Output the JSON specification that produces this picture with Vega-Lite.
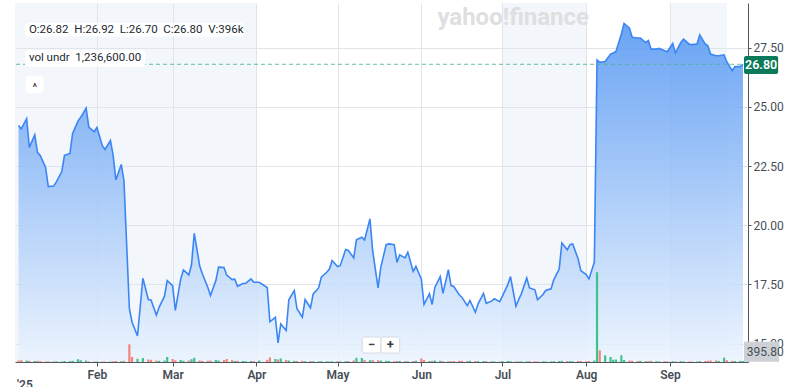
{
  "$schema": "https://vega.github.io/schema/vega-lite/v6.json",
  "width": 733,
  "height": 359,
  "autosize": {"type": "none"},
  "padding": {"left": 15, "top": 3, "right": 52, "bottom": 25},
  "background": "white",
  "config": {
    "view": {"stroke": null},
    "font": "Roboto",
    "axis": {"labelFont": "Roboto", "titleFont": "Roboto"}
  },
  "datasets": {
    "bands": [
      {"start": "2024-12-30", "end": "2025-04-01"},
      {"start": "2025-07-01", "end": "2025-08-01"},
      {"start": "2025-09-01", "end": "2025-09-22"}
    ],
    "price": [
      {"date": "2025-01-03", "close": 24.21, "volume": 0.15, "dir": "down"},
      {"date": "2025-01-04", "close": 24.07, "volume": 0.18, "dir": "down"},
      {"date": "2025-01-06", "close": 24.50, "volume": 0.15, "dir": "up"},
      {"date": "2025-01-07", "close": 23.29, "volume": 0.12, "dir": "down"},
      {"date": "2025-01-09", "close": 23.82, "volume": 0.10, "dir": "up"},
      {"date": "2025-01-10", "close": 23.08, "volume": 0.12, "dir": "down"},
      {"date": "2025-01-11", "close": 22.95, "volume": 0.08, "dir": "down"},
      {"date": "2025-01-13", "close": 22.45, "volume": 0.05, "dir": "down"},
      {"date": "2025-01-14", "close": 21.63, "volume": 0.06, "dir": "down"},
      {"date": "2025-01-16", "close": 21.66, "volume": 0.05, "dir": "up"},
      {"date": "2025-01-17", "close": 21.83, "volume": 0.06, "dir": "up"},
      {"date": "2025-01-19", "close": 22.27, "volume": 0.05, "dir": "up"},
      {"date": "2025-01-20", "close": 22.95, "volume": 0.10, "dir": "up"},
      {"date": "2025-01-22", "close": 23.03, "volume": 0.08, "dir": "up"},
      {"date": "2025-01-23", "close": 23.88, "volume": 0.12, "dir": "up"},
      {"date": "2025-01-25", "close": 24.40, "volume": 0.27, "dir": "up"},
      {"date": "2025-01-26", "close": 24.56, "volume": 0.18, "dir": "up"},
      {"date": "2025-01-28", "close": 24.95, "volume": 0.14, "dir": "up"},
      {"date": "2025-01-29", "close": 24.15, "volume": 0.06, "dir": "down"},
      {"date": "2025-01-31", "close": 23.95, "volume": 0.05, "dir": "down"},
      {"date": "2025-02-01", "close": 24.13, "volume": 0.04, "dir": "up"},
      {"date": "2025-02-03", "close": 23.36, "volume": 0.05, "dir": "down"},
      {"date": "2025-02-04", "close": 23.20, "volume": 0.04, "dir": "down"},
      {"date": "2025-02-06", "close": 23.58, "volume": 0.05, "dir": "up"},
      {"date": "2025-02-07", "close": 22.95, "volume": 0.08, "dir": "down"},
      {"date": "2025-02-08", "close": 21.91, "volume": 0.10, "dir": "down"},
      {"date": "2025-02-10", "close": 22.57, "volume": 0.08, "dir": "up"},
      {"date": "2025-02-11", "close": 21.88, "volume": 0.12, "dir": "down"},
      {"date": "2025-02-13", "close": 16.47, "volume": 1.77, "dir": "down"},
      {"date": "2025-02-14", "close": 15.90, "volume": 0.50, "dir": "down"},
      {"date": "2025-02-16", "close": 15.32, "volume": 0.33, "dir": "up"},
      {"date": "2025-02-18", "close": 17.76, "volume": 0.40, "dir": "up"},
      {"date": "2025-02-20", "close": 16.86, "volume": 0.25, "dir": "down"},
      {"date": "2025-02-21", "close": 16.84, "volume": 0.22, "dir": "down"},
      {"date": "2025-02-23", "close": 16.20, "volume": 0.15, "dir": "down"},
      {"date": "2025-02-24", "close": 16.53, "volume": 0.12, "dir": "up"},
      {"date": "2025-02-26", "close": 17.00, "volume": 0.15, "dir": "up"},
      {"date": "2025-02-27", "close": 17.66, "volume": 0.50, "dir": "up"},
      {"date": "2025-03-01", "close": 17.45, "volume": 0.30, "dir": "down"},
      {"date": "2025-03-02", "close": 16.40, "volume": 0.18, "dir": "down"},
      {"date": "2025-03-04", "close": 17.73, "volume": 0.20, "dir": "up"},
      {"date": "2025-03-05", "close": 18.11, "volume": 0.12, "dir": "up"},
      {"date": "2025-03-07", "close": 17.90, "volume": 0.15, "dir": "down"},
      {"date": "2025-03-08", "close": 18.34, "volume": 0.28, "dir": "up"},
      {"date": "2025-03-09", "close": 19.66, "volume": 0.42, "dir": "up"},
      {"date": "2025-03-11", "close": 18.29, "volume": 0.15, "dir": "down"},
      {"date": "2025-03-12", "close": 17.95, "volume": 0.10, "dir": "down"},
      {"date": "2025-03-14", "close": 17.38, "volume": 0.12, "dir": "down"},
      {"date": "2025-03-15", "close": 17.03, "volume": 0.15, "dir": "down"},
      {"date": "2025-03-17", "close": 17.66, "volume": 0.20, "dir": "up"},
      {"date": "2025-03-18", "close": 18.23, "volume": 0.15, "dir": "up"},
      {"date": "2025-03-20", "close": 18.21, "volume": 0.20, "dir": "down"},
      {"date": "2025-03-21", "close": 17.89, "volume": 0.30, "dir": "down"},
      {"date": "2025-03-23", "close": 17.70, "volume": 0.18, "dir": "down"},
      {"date": "2025-03-24", "close": 17.72, "volume": 0.10, "dir": "up"},
      {"date": "2025-03-25", "close": 17.42, "volume": 0.12, "dir": "down"},
      {"date": "2025-03-27", "close": 17.54, "volume": 0.10, "dir": "up"},
      {"date": "2025-03-28", "close": 17.54, "volume": 0.08, "dir": "up"},
      {"date": "2025-03-30", "close": 17.73, "volume": 0.10, "dir": "up"},
      {"date": "2025-03-31", "close": 17.59, "volume": 0.10, "dir": "down"},
      {"date": "2025-04-02", "close": 17.59, "volume": 0.15, "dir": "up"},
      {"date": "2025-04-05", "close": 17.37, "volume": 0.22, "dir": "down"},
      {"date": "2025-04-06", "close": 15.92, "volume": 0.45, "dir": "down"},
      {"date": "2025-04-08", "close": 16.11, "volume": 0.30, "dir": "up"},
      {"date": "2025-04-09", "close": 15.03, "volume": 0.25, "dir": "down"},
      {"date": "2025-04-10", "close": 15.83, "volume": 0.35, "dir": "up"},
      {"date": "2025-04-12", "close": 15.55, "volume": 0.20, "dir": "down"},
      {"date": "2025-04-13", "close": 16.85, "volume": 0.15, "dir": "up"},
      {"date": "2025-04-15", "close": 17.24, "volume": 0.12, "dir": "up"},
      {"date": "2025-04-16", "close": 16.47, "volume": 0.10, "dir": "down"},
      {"date": "2025-04-18", "close": 16.11, "volume": 0.12, "dir": "down"},
      {"date": "2025-04-19", "close": 16.86, "volume": 0.08, "dir": "up"},
      {"date": "2025-04-21", "close": 16.51, "volume": 0.10, "dir": "down"},
      {"date": "2025-04-22", "close": 17.10, "volume": 0.08, "dir": "up"},
      {"date": "2025-04-24", "close": 17.35, "volume": 0.06, "dir": "up"},
      {"date": "2025-04-25", "close": 17.80, "volume": 0.08, "dir": "up"},
      {"date": "2025-04-27", "close": 18.01, "volume": 0.06, "dir": "up"},
      {"date": "2025-04-28", "close": 18.15, "volume": 0.05, "dir": "up"},
      {"date": "2025-04-29", "close": 18.51, "volume": 0.06, "dir": "up"},
      {"date": "2025-05-01", "close": 18.25, "volume": 0.08, "dir": "down"},
      {"date": "2025-05-02", "close": 18.29, "volume": 0.06, "dir": "up"},
      {"date": "2025-05-04", "close": 18.97, "volume": 0.08, "dir": "up"},
      {"date": "2025-05-05", "close": 18.93, "volume": 0.10, "dir": "down"},
      {"date": "2025-05-07", "close": 18.62, "volume": 0.15, "dir": "down"},
      {"date": "2025-05-08", "close": 19.38, "volume": 0.42, "dir": "up"},
      {"date": "2025-05-10", "close": 19.49, "volume": 0.40, "dir": "up"},
      {"date": "2025-05-11", "close": 19.38, "volume": 0.20, "dir": "down"},
      {"date": "2025-05-13", "close": 20.27, "volume": 0.18, "dir": "up"},
      {"date": "2025-05-14", "close": 18.93, "volume": 0.20, "dir": "down"},
      {"date": "2025-05-16", "close": 17.35, "volume": 0.18, "dir": "down"},
      {"date": "2025-05-17", "close": 18.22, "volume": 0.15, "dir": "up"},
      {"date": "2025-05-19", "close": 19.18, "volume": 0.12, "dir": "up"},
      {"date": "2025-05-20", "close": 19.21, "volume": 0.10, "dir": "up"},
      {"date": "2025-05-22", "close": 19.18, "volume": 0.08, "dir": "down"},
      {"date": "2025-05-23", "close": 18.43, "volume": 0.10, "dir": "down"},
      {"date": "2025-05-24", "close": 18.75, "volume": 0.10, "dir": "up"},
      {"date": "2025-05-26", "close": 18.62, "volume": 0.08, "dir": "down"},
      {"date": "2025-05-27", "close": 18.86, "volume": 0.08, "dir": "up"},
      {"date": "2025-05-29", "close": 18.05, "volume": 0.10, "dir": "down"},
      {"date": "2025-05-30", "close": 18.26, "volume": 0.12, "dir": "up"},
      {"date": "2025-06-01", "close": 17.73, "volume": 0.35, "dir": "down"},
      {"date": "2025-06-02", "close": 16.65, "volume": 0.20, "dir": "down"},
      {"date": "2025-06-04", "close": 17.10, "volume": 0.10, "dir": "up"},
      {"date": "2025-06-05", "close": 16.65, "volume": 0.12, "dir": "down"},
      {"date": "2025-06-06", "close": 17.37, "volume": 0.15, "dir": "up"},
      {"date": "2025-06-08", "close": 17.83, "volume": 0.12, "dir": "up"},
      {"date": "2025-06-09", "close": 17.12, "volume": 0.08, "dir": "down"},
      {"date": "2025-06-11", "close": 18.12, "volume": 0.06, "dir": "up"},
      {"date": "2025-06-12", "close": 17.45, "volume": 0.08, "dir": "down"},
      {"date": "2025-06-13", "close": 17.41, "volume": 0.10, "dir": "down"},
      {"date": "2025-06-15", "close": 17.06, "volume": 0.12, "dir": "down"},
      {"date": "2025-06-16", "close": 16.96, "volume": 0.12, "dir": "down"},
      {"date": "2025-06-18", "close": 16.60, "volume": 0.10, "dir": "down"},
      {"date": "2025-06-19", "close": 16.82, "volume": 0.12, "dir": "up"},
      {"date": "2025-06-21", "close": 16.32, "volume": 0.10, "dir": "down"},
      {"date": "2025-06-22", "close": 16.68, "volume": 0.08, "dir": "up"},
      {"date": "2025-06-24", "close": 17.12, "volume": 0.10, "dir": "up"},
      {"date": "2025-06-25", "close": 16.70, "volume": 0.08, "dir": "down"},
      {"date": "2025-06-27", "close": 16.79, "volume": 0.06, "dir": "up"},
      {"date": "2025-06-28", "close": 16.89, "volume": 0.06, "dir": "up"},
      {"date": "2025-06-30", "close": 16.77, "volume": 0.05, "dir": "down"},
      {"date": "2025-07-01", "close": 17.00, "volume": 0.08, "dir": "up"},
      {"date": "2025-07-03", "close": 17.49, "volume": 0.10, "dir": "up"},
      {"date": "2025-07-04", "close": 17.83, "volume": 0.08, "dir": "up"},
      {"date": "2025-07-06", "close": 16.58, "volume": 0.06, "dir": "down"},
      {"date": "2025-07-07", "close": 16.85, "volume": 0.05, "dir": "up"},
      {"date": "2025-07-08", "close": 17.10, "volume": 0.05, "dir": "up"},
      {"date": "2025-07-10", "close": 17.77, "volume": 0.06, "dir": "up"},
      {"date": "2025-07-11", "close": 17.35, "volume": 0.08, "dir": "down"},
      {"date": "2025-07-13", "close": 17.27, "volume": 0.06, "dir": "down"},
      {"date": "2025-07-14", "close": 16.85, "volume": 0.05, "dir": "down"},
      {"date": "2025-07-16", "close": 17.07, "volume": 0.06, "dir": "up"},
      {"date": "2025-07-17", "close": 17.24, "volume": 0.05, "dir": "up"},
      {"date": "2025-07-19", "close": 17.31, "volume": 0.06, "dir": "up"},
      {"date": "2025-07-20", "close": 17.69, "volume": 0.08, "dir": "up"},
      {"date": "2025-07-22", "close": 18.15, "volume": 0.10, "dir": "up"},
      {"date": "2025-07-23", "close": 19.25, "volume": 0.12, "dir": "up"},
      {"date": "2025-07-25", "close": 18.96, "volume": 0.10, "dir": "down"},
      {"date": "2025-07-26", "close": 19.18, "volume": 0.08, "dir": "up"},
      {"date": "2025-07-27", "close": 19.21, "volume": 0.08, "dir": "up"},
      {"date": "2025-07-29", "close": 18.58, "volume": 0.10, "dir": "down"},
      {"date": "2025-07-30", "close": 18.08, "volume": 0.10, "dir": "down"},
      {"date": "2025-08-01", "close": 17.91, "volume": 0.08, "dir": "down"},
      {"date": "2025-08-02", "close": 17.73, "volume": 0.10, "dir": "down"},
      {"date": "2025-08-04", "close": 18.43, "volume": 0.15, "dir": "up"},
      {"date": "2025-08-05", "close": 26.98, "volume": 9.00, "dir": "up"},
      {"date": "2025-08-06", "close": 26.88, "volume": 1.17, "dir": "down"},
      {"date": "2025-08-08", "close": 26.92, "volume": 0.67, "dir": "up"},
      {"date": "2025-08-10", "close": 27.23, "volume": 0.50, "dir": "up"},
      {"date": "2025-08-11", "close": 27.28, "volume": 0.23, "dir": "up"},
      {"date": "2025-08-12", "close": 27.34, "volume": 0.25, "dir": "up"},
      {"date": "2025-08-14", "close": 28.08, "volume": 0.67, "dir": "up"},
      {"date": "2025-08-15", "close": 28.53, "volume": 0.20, "dir": "up"},
      {"date": "2025-08-17", "close": 28.33, "volume": 0.15, "dir": "down"},
      {"date": "2025-08-18", "close": 27.94, "volume": 0.12, "dir": "down"},
      {"date": "2025-08-20", "close": 27.91, "volume": 0.10, "dir": "down"},
      {"date": "2025-08-21", "close": 27.91, "volume": 0.12, "dir": "up"},
      {"date": "2025-08-23", "close": 27.72, "volume": 0.10, "dir": "down"},
      {"date": "2025-08-24", "close": 27.80, "volume": 0.08, "dir": "up"},
      {"date": "2025-08-25", "close": 27.44, "volume": 0.12, "dir": "down"},
      {"date": "2025-08-27", "close": 27.44, "volume": 0.08, "dir": "up"},
      {"date": "2025-08-28", "close": 27.47, "volume": 0.06, "dir": "up"},
      {"date": "2025-08-30", "close": 27.37, "volume": 0.08, "dir": "down"},
      {"date": "2025-08-31", "close": 27.33, "volume": 0.06, "dir": "down"},
      {"date": "2025-09-02", "close": 27.68, "volume": 0.08, "dir": "up"},
      {"date": "2025-09-03", "close": 27.28, "volume": 0.06, "dir": "down"},
      {"date": "2025-09-05", "close": 27.72, "volume": 0.08, "dir": "up"},
      {"date": "2025-09-06", "close": 27.86, "volume": 0.06, "dir": "up"},
      {"date": "2025-09-08", "close": 27.66, "volume": 0.05, "dir": "down"},
      {"date": "2025-09-09", "close": 27.63, "volume": 0.06, "dir": "down"},
      {"date": "2025-09-11", "close": 27.66, "volume": 0.05, "dir": "up"},
      {"date": "2025-09-12", "close": 28.04, "volume": 0.08, "dir": "up"},
      {"date": "2025-09-14", "close": 27.66, "volume": 0.10, "dir": "down"},
      {"date": "2025-09-15", "close": 27.58, "volume": 0.12, "dir": "down"},
      {"date": "2025-09-16", "close": 27.23, "volume": 0.15, "dir": "down"},
      {"date": "2025-09-18", "close": 27.16, "volume": 0.15, "dir": "down"},
      {"date": "2025-09-19", "close": 27.16, "volume": 0.12, "dir": "up"},
      {"date": "2025-09-21", "close": 27.20, "volume": 0.43, "dir": "up"},
      {"date": "2025-09-22", "close": 26.91, "volume": 0.18, "dir": "down"},
      {"date": "2025-09-24", "close": 26.53, "volume": 0.12, "dir": "down"},
      {"date": "2025-09-25", "close": 26.70, "volume": 0.10, "dir": "up"},
      {"date": "2025-09-27", "close": 26.70, "volume": 0.12, "dir": "up"},
      {"date": "2025-09-28", "close": 26.80, "volume": 0.10, "dir": "up"}
    ]
  },
  "layer": [
    {
      "layer": [
        {
          "data": {"name": "bands"},
          "mark": {"type": "rect", "clip": true, "fill": "#dde6f0", "opacity": 0.35},
          "encoding": {
            "x": {"field": "start", "type": "temporal", "scale": {"type": "utc", "domain": [{"year": 2025, "month": 1, "date": 3, "hours": 13, "utc": true}, {"year": 2025, "month": 9, "date": 28, "hours": 0, "utc": true}]}},
            "x2": {"field": "end"}
          }
        },
        {
          "data": {"name": "price"},
          "mark": {"type": "area", "clip": true, "color": {"gradient": "linear", "x1": 0, "y1": 0, "x2": 0, "y2": 1, "stops": [{"offset": 0, "color": "rgba(80,148,242,0.85)"}, {"offset": 1, "color": "rgba(235,244,254,0.85)"}]}},
          "encoding": {
            "x": {"field": "date", "type": "temporal", "scale": {"type": "utc", "domain": [{"year": 2025, "month": 1, "date": 3, "hours": 13, "utc": true}, {"year": 2025, "month": 9, "date": 28, "hours": 0, "utc": true}]},
              "axis": {"orient": "bottom", "title": null, "format": "%b", "tickCount": {"interval": "month", "step": 1}, "labelColor": "#464e56", "labelFontSize": 12, "labelFontWeight": 600, "labelPadding": 3, "tickSize": 4, "tickColor": "#50575e", "domainColor": "#50575e", "gridColor": "#e1e5e9", "labelFlush": false, "labelOverlap": false}},
            "y": {"field": "close", "type": "quantitative", "scale": {"domain": [14.22, 29.39], "zero": false, "nice": false},
              "axis": {"orient": "right", "title": null, "values": [15, 17.5, 20, 22.5, 25, 27.5], "format": ".2f", "labelColor": "#464e56", "labelFontSize": 12, "labelPadding": 2, "tickSize": 3, "tickColor": "#50575e", "domainColor": "#50575e", "gridColor": "#e1e5e9"}},
            "y2": {"datum": 14.22}
          }
        },
        {
          "data": {"name": "price"},
          "mark": {"type": "line", "clip": true, "color": "#3b86f4", "strokeWidth": 1.6},
          "encoding": {
            "x": {"field": "date", "type": "temporal"},
            "y": {"field": "close", "type": "quantitative"}
          }
        }
      ]
    },
    {
      "data": {"name": "price"},
      "mark": {"type": "bar", "size": 2.2, "clip": true},
      "encoding": {
        "x": {"field": "date", "type": "temporal"},
        "y": {"field": "volume", "type": "quantitative", "scale": {"domain": [0, 36], "nice": false}, "axis": null},
        "color": {"field": "dir", "type": "nominal", "scale": {"domain": ["up", "down"], "range": ["#3ec38f", "#f4847b"]}, "legend": null}
      }
    },
    {
      "data": {"values": [{}]},
      "layer": [
        {
          "mark": {"type": "rule", "color": "#4db391", "strokeDash": [4, 3], "strokeWidth": 1, "opacity": 0.85},
          "encoding": {"y": {"datum": 26.8, "type": "quantitative", "scale": {"domain": [14.22, 29.39], "zero": false, "nice": false}, "axis": null}}
        },
        {
          "mark": {"type": "rect", "fill": "white", "cornerRadius": 3},
          "encoding": {
            "x": {"datum": {"year": 2025, "month": 1, "date": 5, "hours": 9, "utc": true}, "type": "temporal"},
            "x2": {"datum": {"year": 2025, "month": 3, "date": 27, "hours": 9, "utc": true}},
            "y": {"datum": 28.56, "type": "quantitative"},
            "y2": {"datum": 27.97}
          }
        },
        {
          "mark": {"type": "rect", "fill": "white", "cornerRadius": 3},
          "encoding": {
            "x": {"datum": {"year": 2025, "month": 1, "date": 5, "hours": 9, "utc": true}, "type": "temporal"},
            "x2": {"datum": {"year": 2025, "month": 2, "date": 18, "hours": 21, "utc": true}},
            "y": {"datum": 27.40, "type": "quantitative"},
            "y2": {"datum": 26.70}
          }
        },
        {
          "mark": {"type": "rect", "fill": "white", "cornerRadius": 3},
          "encoding": {
            "x": {"datum": {"year": 2025, "month": 1, "date": 5, "hours": 15, "utc": true}, "type": "temporal"},
            "x2": {"datum": {"year": 2025, "month": 1, "date": 12, "hours": 7, "utc": true}},
            "y": {"datum": 26.31, "type": "quantitative"},
            "y2": {"datum": 25.59}
          }
        },
        {
          "mark": {"type": "text", "text": "O:26.82\u00a0\u00a0H:26.92\u00a0\u00a0L:26.70\u00a0\u00a0C:26.80\u00a0\u00a0V:396k", "align": "left", "baseline": "middle", "fontSize": 11.5, "color": "#232a31"},
          "encoding": {
            "x": {"datum": {"year": 2025, "month": 1, "date": 6, "hours": 20, "utc": true}, "type": "temporal"},
            "y": {"datum": 28.26, "type": "quantitative"}
          }
        },
        {
          "mark": {"type": "text", "text": "vol undr\u00a0\u00a01,236,600.00", "align": "left", "baseline": "middle", "fontSize": 11.5, "color": "#232a31"},
          "encoding": {
            "x": {"datum": {"year": 2025, "month": 1, "date": 6, "hours": 20, "utc": true}, "type": "temporal"},
            "y": {"datum": 27.05, "type": "quantitative"}
          }
        },
        {
          "mark": {"type": "text", "text": "^", "align": "center", "baseline": "middle", "fontSize": 11, "color": "#232a31"},
          "encoding": {
            "x": {"datum": {"year": 2025, "month": 1, "date": 9, "hours": 0, "utc": true}, "type": "temporal"},
            "y": {"datum": 25.80, "type": "quantitative"}
          }
        },
        {
          "mark": {"type": "rect", "fill": "#0b7a5b", "cornerRadius": 2},
          "encoding": {
            "x": {"datum": {"year": 2025, "month": 9, "date": 28, "hours": 9, "utc": true}, "type": "temporal"},
            "x2": {"datum": {"year": 2025, "month": 10, "date": 11, "hours": 0, "utc": true}},
            "y": {"datum": 27.15, "type": "quantitative"},
            "y2": {"datum": 26.39}
          }
        },
        {
          "mark": {"type": "text", "text": "26.80", "align": "center", "baseline": "middle", "fontSize": 12.5, "fontWeight": 600, "color": "white"},
          "encoding": {
            "x": {"datum": {"year": 2025, "month": 10, "date": 4, "hours": 17, "utc": true}, "type": "temporal"},
            "y": {"datum": 26.77, "type": "quantitative"}
          }
        },
        {
          "mark": {"type": "rect", "fill": "#cdd0d4"},
          "encoding": {
            "x": {"datum": {"year": 2025, "month": 9, "date": 28, "hours": 9, "utc": true}, "type": "temporal"},
            "x2": {"datum": {"year": 2025, "month": 10, "date": 11, "hours": 9, "utc": true}},
            "y": {"datum": 15.076, "type": "quantitative"},
            "y2": {"datum": 14.231}
          }
        },
        {
          "mark": {"type": "text", "text": "395.80", "align": "left", "baseline": "middle", "fontSize": 12, "color": "#464e56"},
          "encoding": {
            "x": {"datum": {"year": 2025, "month": 9, "date": 29, "hours": 10, "utc": true}, "type": "temporal"},
            "y": {"datum": 14.64, "type": "quantitative"}
          }
        },
        {
          "mark": {"type": "rect", "fill": "white", "stroke": "#d6d9dd", "strokeWidth": 1, "cornerRadius": 2},
          "encoding": {
            "x": {"datum": {"year": 2025, "month": 5, "date": 10, "hours": 3, "utc": true}, "type": "temporal"},
            "x2": {"datum": {"year": 2025, "month": 5, "date": 17, "hours": 2, "utc": true}},
            "y": {"datum": 15.275, "type": "quantitative"},
            "y2": {"datum": 14.598}
          }
        },
        {
          "mark": {"type": "rect", "fill": "white", "stroke": "#d6d9dd", "strokeWidth": 1, "cornerRadius": 2},
          "encoding": {
            "x": {"datum": {"year": 2025, "month": 5, "date": 17, "hours": 2, "utc": true}, "type": "temporal"},
            "x2": {"datum": {"year": 2025, "month": 5, "date": 24, "hours": 0, "utc": true}},
            "y": {"datum": 15.275, "type": "quantitative"},
            "y2": {"datum": 14.598}
          }
        },
        {
          "mark": {"type": "text", "text": "\u2212", "align": "center", "baseline": "middle", "fontSize": 13, "fontWeight": "bold", "color": "#3a4047"},
          "encoding": {
            "x": {"datum": {"year": 2025, "month": 5, "date": 13, "hours": 14, "utc": true}, "type": "temporal"},
            "y": {"datum": 14.94, "type": "quantitative"}
          }
        },
        {
          "mark": {"type": "text", "text": "+", "align": "center", "baseline": "middle", "fontSize": 13, "fontWeight": "bold", "color": "#3a4047"},
          "encoding": {
            "x": {"datum": {"year": 2025, "month": 5, "date": 20, "hours": 12, "utc": true}, "type": "temporal"},
            "y": {"datum": 14.94, "type": "quantitative"}
          }
        },
        {
          "mark": {"type": "text", "text": "yahoo!finance", "align": "center", "baseline": "middle", "fontSize": 24, "fontWeight": "bold", "color": "#dedfe1"},
          "encoding": {
            "x": {"datum": {"year": 2025, "month": 7, "date": 5, "hours": 0, "utc": true}, "type": "temporal"},
            "y": {"datum": 28.76, "type": "quantitative"}
          }
        },
        {
          "mark": {"type": "text", "text": "'25", "align": "center", "baseline": "top", "fontSize": 12, "fontWeight": 600, "color": "#464e56"},
          "encoding": {
            "x": {"datum": {"year": 2025, "month": 1, "date": 5, "hours": 9, "utc": true}, "type": "temporal"},
            "y": {"datum": 13.46, "type": "quantitative"}
          }
        }
      ]
    }
  ],
  "resolve": {"scale": {"y": "independent"}}
}
